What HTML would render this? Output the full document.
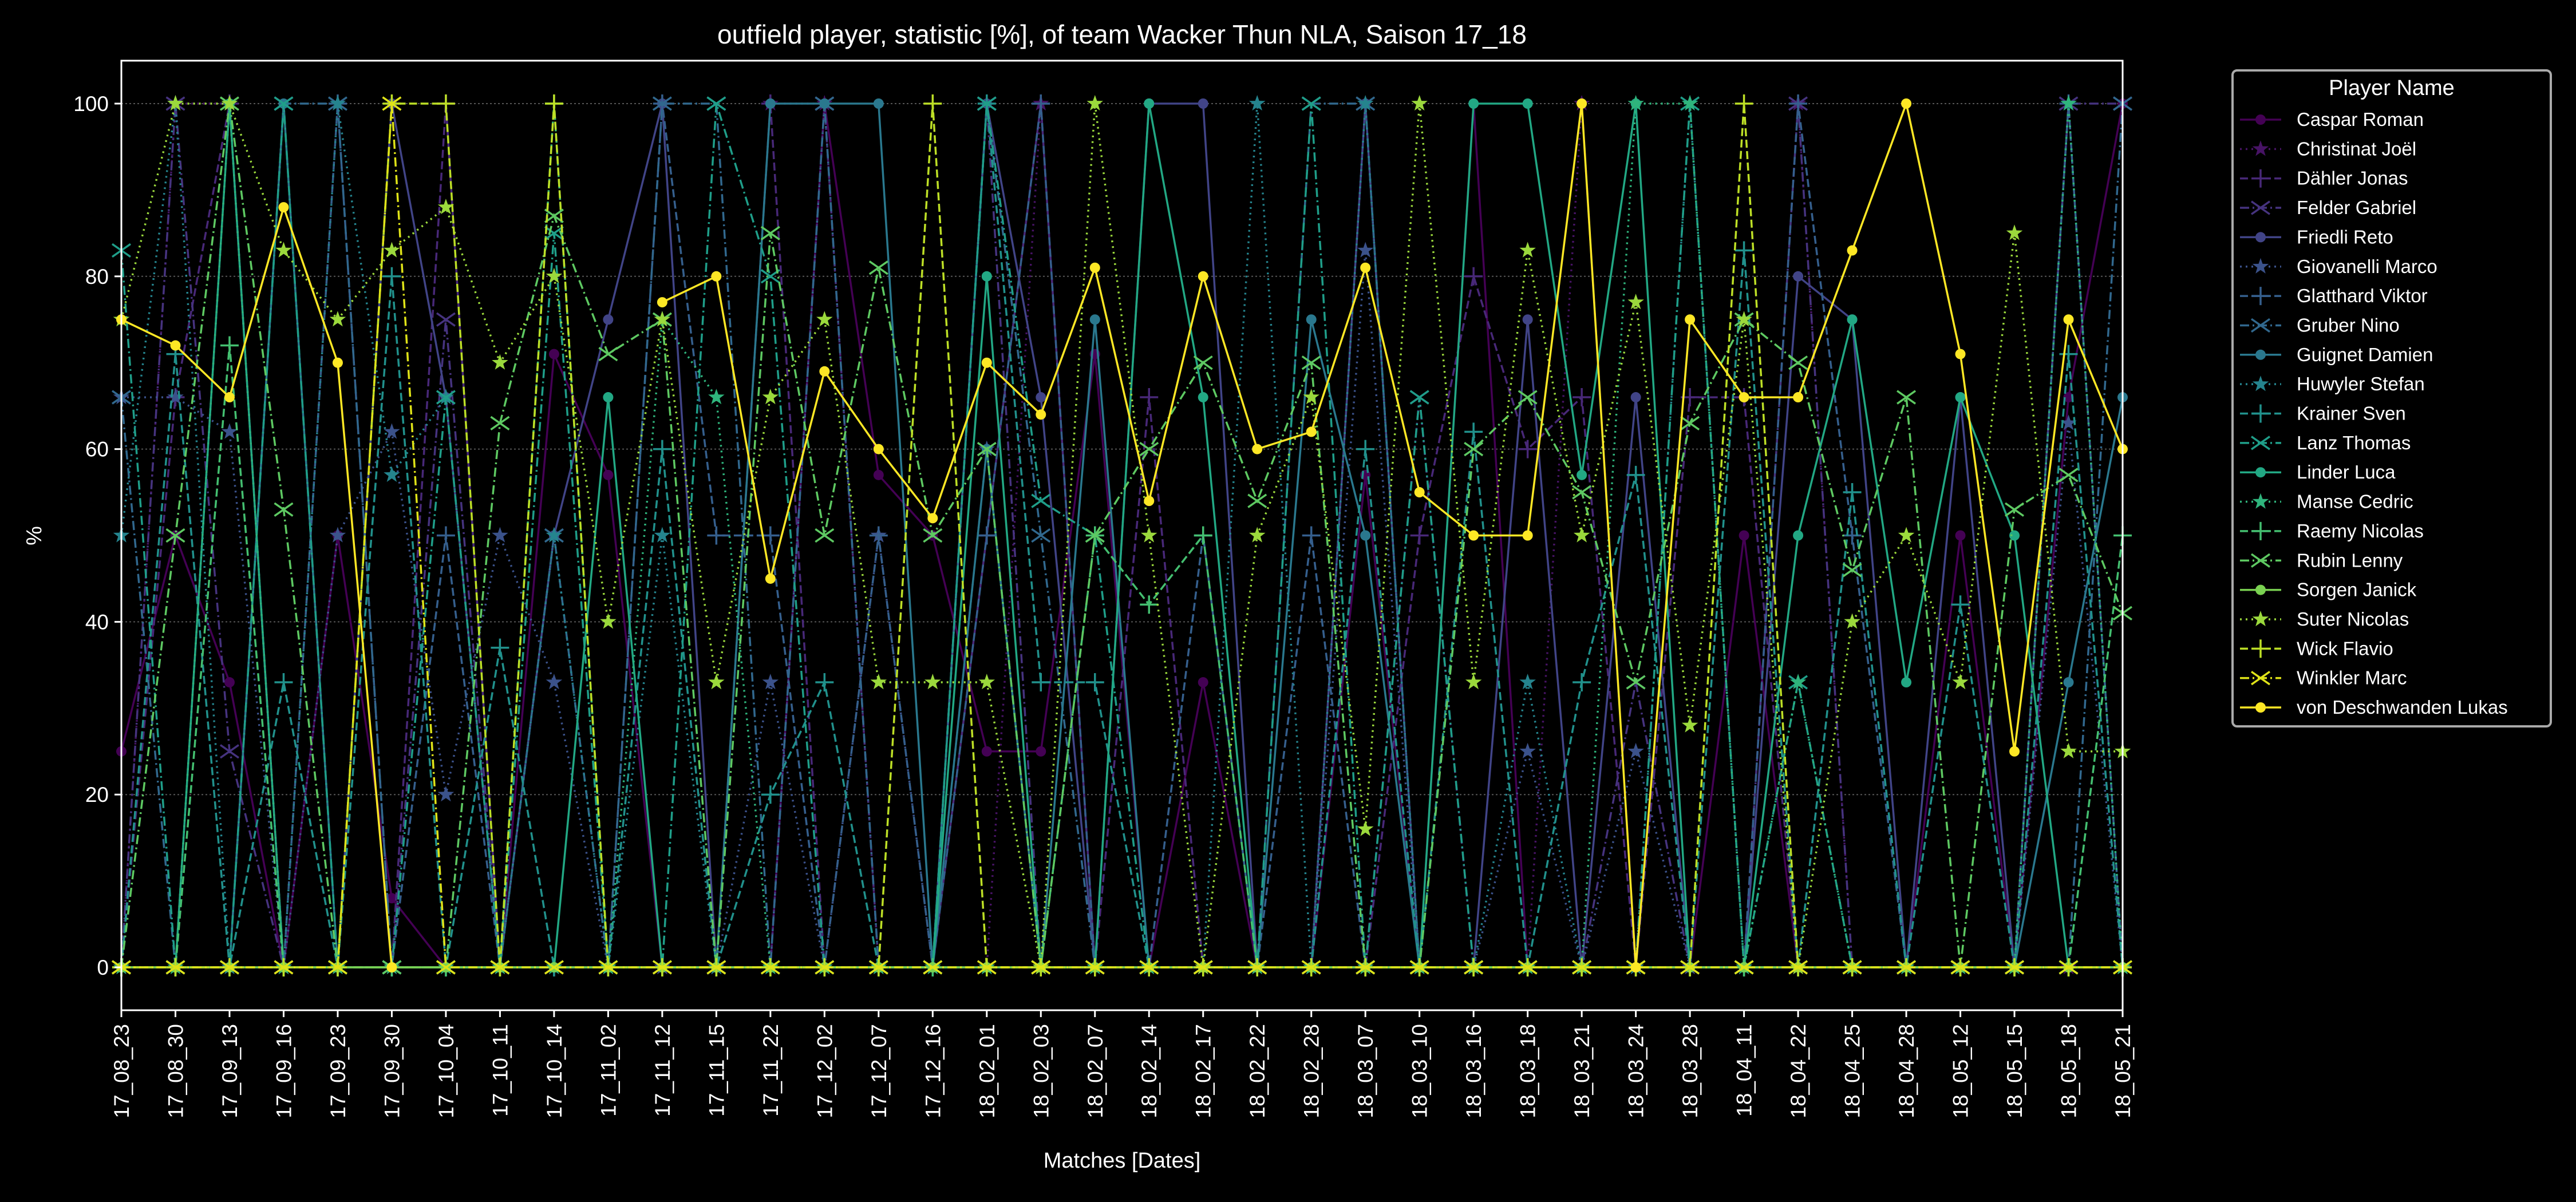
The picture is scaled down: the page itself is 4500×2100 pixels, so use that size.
<!DOCTYPE html>
<html><head><meta charset="utf-8"><style>
html,body{margin:0;padding:0;background:#000;}
svg{display:block;font-family:"Liberation Sans","DejaVu Sans",sans-serif;}
</style></head><body>
<svg id="chart" width="4500" height="2100" viewBox="0 0 4500 2100">
<rect width="4500" height="2100" fill="#000"/>
<text x="1960" y="76" fill="#fff" font-size="46" text-anchor="middle">outfield player, statistic [%], of team Wacker Thun NLA, Saison 17_18</text>
<g id="grid"></g><g id="series"></g><g id="axes"></g><g id="legend"></g>
<text x="1960" y="2040" fill="#fff" font-size="38" text-anchor="middle">Matches [Dates]</text>
<text x="0" y="0" fill="#fff" font-size="38" text-anchor="middle" transform="translate(72,936) rotate(-90)">%</text>
</svg>
<script>
const dates=["17_08_23","17_08_30","17_09_13","17_09_16","17_09_23","17_09_30","17_10_04","17_10_11","17_10_14","17_11_02","17_11_12","17_11_15","17_11_22","17_12_02","17_12_07","17_12_16","18_02_01","18_02_03","18_02_07","18_02_14","18_02_17","18_02_22","18_02_28","18_03_07","18_03_10","18_03_16","18_03_18","18_03_21","18_03_24","18_03_28","18_04_11","18_04_22","18_04_25","18_04_28","18_05_12","18_05_15","18_05_18","18_05_21"];
const yTicks=[0,20,40,60,80,100];
const players=["Caspar Roman","Christinat Joël","Dähler Jonas","Felder Gabriel","Friedli Reto","Giovanelli Marco","Glatthard Viktor","Gruber Nino","Guignet Damien","Huwyler Stefan","Krainer Sven","Lanz Thomas","Linder Luca","Manse Cedric","Raemy Nicolas","Rubin Lenny","Sorgen Janick","Suter Nicolas","Wick Flavio","Winkler Marc","von Deschwanden Lukas"];
const sCaspar=[25,50,33,0,50,8,0,0,71,57,0,0,0,100,57,50,25,25,71,0,33,0,0,57,0,100,0,0,0,0,50,0,0,0,50,0,66,100];
const sChristinat=[0,100,100,0,0,0,0,0,0,0,0,0,100,100,0,0,0,100,0,0,0,0,0,0,0,0,0,100,0,0,0,100,0,0,0,0,0,0];
const sDahler=[0,66,100,0,0,0,100,0,0,0,0,0,100,0,0,0,50,100,0,66,0,0,0,0,50,80,60,66,0,66,66,0,0,0,0,0,0,0];
const sFelder=[0,100,25,0,0,0,75,0,0,0,0,0,0,100,0,0,100,0,0,0,0,0,0,0,66,0,0,0,33,0,0,100,0,0,0,0,100,100];
const sFriedli=[0,0,0,0,0,100,66,0,50,75,100,0,0,0,0,0,100,66,0,100,100,0,0,100,0,0,75,0,66,0,0,80,75,0,66,0,0,0];
const sGiovanelli=[66,66,62,0,50,62,20,50,33,0,0,0,33,0,50,0,60,0,0,0,0,0,0,83,0,0,25,0,25,0,0,0,0,0,0,0,63,0];
const sGlatthard=[0,0,0,0,100,0,50,0,0,0,100,50,50,0,50,0,50,100,0,0,50,0,50,0,0,0,0,0,0,0,0,100,50,0,0,0,100,0];
const sGruber=[66,0,0,100,100,0,0,0,50,0,100,100,0,100,0,0,100,50,0,0,0,0,100,100,0,0,0,0,0,0,0,0,0,0,0,0,0,100];
const sGuignet=[0,0,0,100,0,0,0,0,0,0,0,0,100,100,100,0,60,0,75,0,0,0,75,50,0,0,0,0,0,0,0,0,0,0,0,0,33,66];
const sHuwyler=[50,100,0,0,100,57,66,0,50,0,50,0,0,0,0,0,0,0,0,0,0,100,0,100,0,0,33,0,0,100,0,0,0,0,0,0,100,0];
const sKrainer=[0,71,0,33,0,80,0,37,0,0,60,0,20,33,0,0,100,33,33,0,0,0,0,60,0,62,0,33,57,0,83,0,55,0,42,0,71,0];
const sLanz=[83,0,0,100,0,0,66,0,85,0,0,100,80,0,0,0,100,54,50,0,0,0,100,0,66,0,0,0,0,100,0,33,0,0,0,0,0,0];
const sLinder=[0,0,100,0,0,0,0,0,0,66,0,0,0,0,0,0,80,0,0,100,66,0,0,0,0,100,100,57,100,0,0,50,75,33,66,50,0,0];
const sManse=[0,0,100,0,0,0,0,0,0,0,75,66,0,0,0,0,0,0,0,0,0,0,0,0,0,0,0,0,100,100,0,33,0,0,0,0,100,0];
const sRaemy=[0,0,72,0,0,0,0,0,100,0,0,0,0,0,0,0,0,0,50,42,50,0,0,0,0,0,0,0,0,0,0,0,0,0,0,0,0,50];
const sRubin=[0,50,100,53,0,0,0,63,87,71,75,0,85,50,81,50,60,0,50,60,70,54,70,0,0,60,66,55,33,63,75,70,46,66,0,53,57,41];
const sSorgen=[0,0,0,0,0,0,0,0,0,0,0,0,0,0,0,0,0,0,0,0,0,0,0,0,0,0,0,0,0,0,0,0,0,0,0,0,0,0];
const sSuter=[75,100,100,83,75,83,88,70,80,40,75,33,66,75,33,33,33,0,100,50,0,50,66,16,100,33,83,50,77,28,75,0,40,50,33,85,25,25];
const sWick=[0,0,0,0,0,100,100,0,100,0,0,0,0,0,0,100,0,0,0,0,0,0,0,0,0,0,0,0,0,0,100,0,0,0,0,0,0,0];
const sWinkler=[0,0,0,0,0,100,0,0,0,0,0,0,0,0,0,0,0,0,0,0,0,0,0,0,0,0,0,0,0,0,0,0,0,0,0,0,0,0];
const sVon=[75,72,66,88,70,0,null,null,null,null,77,80,45,69,60,52,70,64,81,54,80,60,62,81,55,50,50,100,0,75,66,66,83,100,71,25,75,60];
const allSeries=[sCaspar,sChristinat,sDahler,sFelder,sFriedli,sGiovanelli,sGlatthard,sGruber,sGuignet,sHuwyler,sKrainer,sLanz,sLinder,sManse,sRaemy,sRubin,sSorgen,sSuter,sWick,sWinkler,sVon];
const colors=["#440154","#471365","#482878","#46337f","#414487","#3b528b","#355f8d","#31688e","#2a788e","#25848e","#21918c","#1f9e89","#22a884","#2fb47c","#44bf70","#5ec962","#7ad151","#9bd93c","#bddf26","#dfe318","#fde725"];
const markers=["o","*","+","x"];
const dashes={"o":"","*":"3,7","+":"14,6","x":"16,6,3,6"};
const NS="http://www.w3.org/2000/svg";
const L=212,R=3708,T=106,B=1765,Y0=1690,Y100=181;
function xs(i){return L+i*(R-L)/(dates.length-1);}
function ys(v){return Y0+(Y100-Y0)*v/100;}
function mk(tag,at,parent){const e=document.createElementNS(NS,tag);for(const k in at)e.setAttribute(k,at[k]);parent.appendChild(e);return e;}
const grid=document.getElementById('grid'),axes=document.getElementById('axes'),ser=document.getElementById('series'),leg=document.getElementById('legend');
yTicks.forEach(v=>{
 const g=mk('line',{x1:L,x2:R,y1:ys(v),y2:ys(v),stroke:'#555','stroke-width':2,'stroke-dasharray':'3,4'},grid);
 
 
 const t=mk('line',{x1:L-12,x2:L,y1:ys(v),y2:ys(v),stroke:'#fff','stroke-width':3},axes);
 
 
 const tx=mk('text',{x:L-22,y:ys(v)+13,fill:'#fff','font-size':37,'text-anchor':'end'},axes);tx.textContent=v;
 
 
});
dates.forEach((d,i)=>{
 const t=mk('line',{x1:xs(i),x2:xs(i),y1:B,y2:B+12,stroke:'#fff','stroke-width':3},axes);
 
 
 const tx=mk('text',{x:0,y:0,fill:'#fff','font-size':37,'text-anchor':'end',transform:`translate(${xs(i)+13},${B+24}) rotate(-90)`},axes);tx.textContent=d;
 
 
});
const frame=mk('rect',{x:L,y:T,width:R-L,height:B-T,fill:'none',stroke:'#fff','stroke-width':3},axes);


function marker(m,x,y,c,parent,s){
 s=s||1;let e;
 if(m==="o"){e=mk('circle',{cx:x,cy:y,r:9*s,fill:c},parent);}
 else if(m==="*"){let p=[];for(let k=0;k<10;k++){const r=(k%2?6:15)*s,a=-Math.PI/2+k*Math.PI/5;p.push((x+r*Math.cos(a)).toFixed(1)+','+(y+r*Math.sin(a)).toFixed(1));}e=mk('polygon',{points:p.join(' '),fill:c},parent);}
 else if(m==="+"){const r=16*s;e=mk('path',{d:`M${x-r},${y}H${x+r}M${x},${y-r}V${y+r}`,stroke:c,'stroke-width':3.5,fill:'none'},parent);}
 else {const r=16*s;e=mk('path',{d:`M${x-r},${y-r*0.7}L${x+r},${y+r*0.7}M${x-r},${y+r*0.7}L${x+r},${y-r*0.7}`,stroke:c,'stroke-width':3.5,fill:'none'},parent);}
 return e;
}
allSeries.forEach((arr,si)=>{
 const c=colors[si],m=markers[si%4];
 const g=mk('g',{},ser);
 
 
 let d='',pen=false;
 arr.forEach((v,i)=>{if(v===null){pen=false;return;}d+=(pen?'L':'M')+xs(i).toFixed(1)+','+ys(v).toFixed(1);pen=true;});
 if(d){const p=mk('path',{d:d,fill:'none',stroke:c,'stroke-width':3.5,'stroke-dasharray':dashes[m]},g);
 
 }
 arr.forEach((v,i)=>{if(v===null)return;const e=marker(m,xs(i),ys(v),c,g);
 
 });
});
const box=mk('rect',{x:3900,y:123,width:556,height:1146,rx:8,fill:'#000',stroke:'#aaa','stroke-width':4},leg);


const lt=mk('text',{x:4178,y:166,fill:'#fff','font-size':38,'text-anchor':'middle'},leg);lt.textContent='Player Name';


players.forEach((n,i)=>{
 const y=209+i*51.35,c=colors[i],m=markers[i%4];
 const g=mk('g',{},leg);
 
 
 mk('line',{x1:3913,x2:3985,y1:y,y2:y,stroke:c,'stroke-width':3.5,'stroke-dasharray':dashes[m]},g);
 marker(m,3949,y,c,g);
 const t=mk('text',{x:4012,y:y+11,fill:'#fff','font-size':33},g);t.textContent=n;
});
</script>
</body></html>
